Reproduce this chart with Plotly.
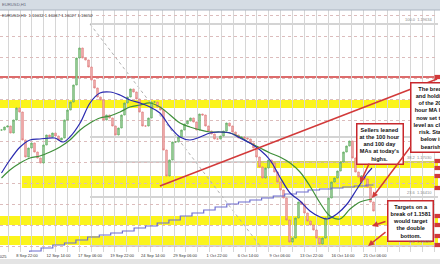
import plotly.graph_objects as go

# ---------------- data (EURUSD H1) ----------------
closes = [1.1762, 1.17677, 1.17696, 1.17563, 1.1781, 1.18038, 1.17962, 1.1743, 1.17107, 1.17278,
          1.17373, 1.17202, 1.17088, 1.16993, 1.17335, 1.17525, 1.17487, 1.17563, 1.17506, 1.1743,
          1.17468, 1.1781, 1.18, 1.18152, 1.18475, 1.18988, 1.19178, 1.18988, 1.1895, 1.18817,
          1.1857, 1.18418, 1.18247, 1.1819, 1.1781, 1.17905, 1.17848, 1.17696, 1.17525, 1.17658,
          1.17905, 1.18133, 1.18247, 1.18399, 1.18342, 1.18209, 1.17962, 1.17696, 1.17696, 1.17848,
          1.18152, 1.18152, 1.18057, 1.18, 1.1724, 1.16746, 1.1705, 1.17392, 1.17392, 1.17487,
          1.1762, 1.17734, 1.17791, 1.17848, 1.17772, 1.1762, 1.17924, 1.17905, 1.17696, 1.17601,
          1.17544, 1.17449, 1.17449, 1.17506, 1.17601, 1.17753, 1.17696, 1.17582, 1.17525, 1.17468,
          1.17487, 1.17468, 1.17449, 1.17373, 1.17278, 1.17107, 1.16917, 1.16708, 1.16898, 1.1705,
          1.16993, 1.16822, 1.16632, 1.1648, 1.16328, 1.1591, 1.15492, 1.15568, 1.15948, 1.16252,
          1.16214, 1.16043, 1.15891, 1.15815, 1.1572, 1.15568, 1.15454, 1.15568, 1.15948, 1.16328,
          1.16632, 1.16708, 1.16841, 1.17012, 1.17202, 1.17316, 1.17411, 1.17088, 1.16822, 1.16727,
          1.16746, 1.16689, 1.16537, 1.16252, 1.16081]

ma100h_bar = [0, 2.8, 6.2, 9.5, 12.8, 17.8, 20.5, 22.8, 26.2, 29.5, 32.8, 36.2, 39.5, 42.8, 46.2,
              49.5, 52.8, 56.2, 59.5, 62.8, 66.2, 69.5, 72.8, 76.2, 79.5, 82.8, 86.2, 89.5, 92.8,
              96.2, 99.5, 102.8, 106.2, 108.5, 111.8, 115.2, 118.5, 121.8, 123.5]
ma100h_val = [1.16803, 1.1705, 1.17297, 1.1743, 1.17449, 1.17468, 1.17392, 1.17487, 1.17753, 1.18133,
              1.18323, 1.18342, 1.18285, 1.1819, 1.18133, 1.18057, 1.17943, 1.17677, 1.17487, 1.1743,
              1.17487, 1.17563, 1.17582, 1.17563, 1.17468, 1.17373, 1.1724, 1.1705, 1.16727, 1.16423,
              1.16271, 1.16081, 1.15967, 1.15929, 1.16024, 1.16214, 1.16499, 1.16784, 1.16898]

ma200h_bar = [0, 2.8, 6.2, 9.5, 12.8, 16.2, 19.5, 22.8, 26.2, 29.5, 32.8, 36.2, 39.5, 42.8, 46.2,
              49.5, 52.8, 56.2, 59.5, 62.8, 66.2, 69.5, 72.8, 76.2, 79.5, 82.8, 86.2, 89.5, 92.8,
              96.2, 99.5, 102.8, 106.2, 109.5, 112.8, 116.2, 119.5, 123.5]
ma200h_val = [1.16708, 1.1686, 1.16993, 1.17088, 1.17126, 1.17202, 1.17297, 1.1743, 1.1762, 1.17753,
              1.17848, 1.17886, 1.17962, 1.18057, 1.18095, 1.18133, 1.18057, 1.17905, 1.17753, 1.17677,
              1.1762, 1.17582, 1.17582, 1.17563, 1.17487, 1.17373, 1.17278, 1.17183, 1.17107, 1.16993,
              1.16822, 1.16556, 1.16233, 1.15986, 1.15929, 1.16119, 1.16252, 1.16309]

ma100d_bar = [5.5, 9.4, 13.2, 17.1, 21, 24.8, 28.7, 32.6, 36.4, 40.3, 44.2, 48, 51.9, 55.8, 59.6,
              63.5, 67.4, 71.2, 75.1, 79, 82.8, 86.7, 90.6, 94.4, 98.3, 102.2, 106, 109.9, 113.8,
              117.6, 121.5, 124]
ma100d_val = [1.15264, 1.15321, 1.15378, 1.15435, 1.15473, 1.1553, 1.15587, 1.15625, 1.15663, 1.15701,
              1.15758, 1.15796, 1.15853, 1.1591, 1.15986, 1.16043, 1.161, 1.16157, 1.16214, 1.16252,
              1.1629, 1.16328, 1.16366, 1.16404, 1.16442, 1.1648, 1.16499, 1.16518, 1.16537, 1.16556,
              1.16575, 1.16575]

tick_bars = [8.5, 19, 29.5, 40.2, 50.5, 61.2, 71.8, 82.2, 92.8, 103.3, 113.8, 124.5]
tick_text = ["8 Sep 22:00", "12 Sep 14:00", "17 Sep 06:00", "19 Sep 22:00", "24 Sep 14:00",
             "29 Sep 06:00", "1 Oct 22:00", "6 Oct 14:00", "9 Oct 06:00", "13 Oct 22:00",
             "16 Oct 14:00", "21 Oct 06:00"]

# support / resistance zones (top, bottom, start bar)
zone_top = [1.1819, 1.17031, 1.16746, 1.15986, 1.15606]
zone_bot = [1.18038, 1.16898, 1.16518, 1.15815, 1.15435]
zone_start = [-0.5, 85.0, 6.8, -0.5, -0.5]
red_levels = [1.18627, 1.18171, 1.18057]
fib_levels = [1.19634, 1.17487, 1.17012, 1.16347, 1.15416]
fib_labels = {0: "100.0  1.19634", 2: "38.2  1.17030", 3: "23.6  1.16410", 4: "0.0  1.15420"}
trend_bar = [52.8, 145.2]
trend_val = [1.16556, 1.18589]
edge_marks = [1.18627, 1.18171, 1.18057, 1.17031, 1.16898, 1.16746, 1.16518, 1.15986, 1.15815,
              1.15606, 1.15435]

# ---------------- figure ----------------
bars = list(range(len(closes)))
opens = [closes[0]] + closes[:-1]
highs = [max(o, c) for o, c in zip(opens, closes)]
lows = [min(o, c) for o, c in zip(opens, closes)]

RED = "#d23a3a"
YEL = "#fbf41c"
fig = go.Figure()

fig.add_trace(go.Candlestick(
    x=bars, open=opens, high=highs, low=lows, close=closes,
    increasing=dict(line=dict(color="#5aa85a", width=0.8), fillcolor="#b4dcb4"),
    decreasing=dict(line=dict(color="#e07a7a", width=0.8), fillcolor="#f6c4c4"),
    whiskerwidth=0, hoverinfo="skip"))
fig.add_trace(go.Scatter(x=ma100d_bar, y=ma100d_val, mode="lines", line=dict(color="#6f6fd0", width=1.2, shape="hv"), hoverinfo="skip"))
fig.add_trace(go.Scatter(x=ma200h_bar, y=ma200h_val, mode="lines", line=dict(color="#3f8f3a", width=1.2, shape="spline"), hoverinfo="skip"))
fig.add_trace(go.Scatter(x=ma100h_bar, y=ma100h_val, mode="lines", line=dict(color="#2a2ab0", width=1.2, shape="spline"), hoverinfo="skip"))

shapes = []
for t, b, s in zip(zone_top, zone_bot, zone_start):
    shapes.append(dict(type="rect", xref="x", yref="y", x0=s, x1=145.5, y0=b, y1=t,
                       fillcolor=YEL, line=dict(width=0), layer="below"))
for lv in red_levels:
    shapes.append(dict(type="line", xref="paper", yref="y", x0=0, x1=1, y0=lv, y1=lv,
                       line=dict(color=RED, width=1.5), layer="below"))
for lv in fib_levels:
    shapes.append(dict(type="line", xref="x", yref="y", x0=29.5, x1=145.5, y0=lv, y1=lv,
                       line=dict(color="#a9a9a9", width=1), layer="below"))
shapes.append(dict(type="line", xref="x", yref="y", x0=29.5, x1=86.2, y0=fib_levels[0], y1=fib_levels[-1],
                   line=dict(color="#b0b0b0", width=1, dash="dot"), layer="below"))
shapes.append(dict(type="line", xref="x", yref="y", x0=trend_bar[0], x1=trend_bar[1], y0=trend_val[0], y1=trend_val[1],
                   line=dict(color=RED, width=1.5)))
for lv in edge_marks:
    shapes.append(dict(type="rect", xref="paper", yref="y", x0=0.992, x1=1.005, y0=lv - 0.0004, y1=lv + 0.0004,
                       fillcolor=RED, line=dict(width=0)))
# window chrome
shapes.append(dict(type="rect", xref="paper", yref="paper", x0=-0.01, x1=1.01, y0=(252 - 10) / 242, y1=(252 + 1) / 242,
                   fillcolor="#d5dce4", line=dict(color="#aab4c0", width=1)))
shapes.append(dict(type="rect", xref="paper", yref="paper", x0=-0.01, x1=1.01, y0=(252 - 265) / 242, y1=(252 - 259) / 242,
                   fillcolor="#e4e4e4", line=dict(width=0)))

ann = []
BOX = dict(showarrow=False, bgcolor="white", bordercolor="#c8282d", borderwidth=1.5, borderpad=2,
           font=dict(family="Liberation Sans, Arial", size=5.6, color="#111"), align="center")
ann.append(dict(x=126.2, y=1.17354, xref="x", yref="y",
                text="<b>Sellers leaned<br>at the 100 hour<br>and 100 day<br>MAs at today's<br>highs.</b>", **BOX))
ann.append(dict(x=136.3, y=1.15891, xref="x", yref="y",
                text="<b>Targets on a<br>break of 1.1581<br>would target<br>the double<br>bottom.</b>", **BOX))
ann.append(dict(x=136.2, y=1.17858, xref="x", yref="y", xanchor="left",
                text="<b>The break<br>and holding<br>of the 200<br>hour MA has<br>now set the<br>level as close<br>risk. Stay<br>below is<br>bearish.</b>", **BOX))
for (tx, ty, hx, hy) in [(122.8, 1.17012, 119.5, 1.16613), (136.8, 1.17335, 123.5, 1.16328),
                         (128.5, 1.15891, 123.5, 1.15796), (128.5, 1.15701, 122.2, 1.15416)]:
    ann.append(dict(x=hx, y=hy, ax=tx, ay=ty, xref="x", yref="y", axref="x", ayref="y", text="",
                    showarrow=True, arrowhead=2, arrowsize=0.8, arrowwidth=1.5, arrowcolor=RED))
for i, nm in fib_labels.items():
    ann.append(dict(x=0.99, y=fib_levels[i], xref="paper", yref="y", xanchor="right", yanchor="bottom", text=nm,
                    showarrow=False, font=dict(size=4, color="#888", family="Liberation Sans, Arial")))
ann.append(dict(x=0.0, y=(252 - 15) / 242, xref="paper", yref="paper", xanchor="left", yanchor="middle",
                text="EURUSD,H1  1.16032 1.16067 1.16027 1.16052", showarrow=False,
                font=dict(size=4.2, color="#333", family="Liberation Sans, Arial")))
ann.append(dict(x=0.0, y=(252 - 5) / 242, xref="paper", yref="paper", xanchor="left", yanchor="middle",
                text="EURUSD,H1", showarrow=False, font=dict(size=4.2, color="#667", family="Liberation Sans, Arial")))
ann.append(dict(x=9 / 438, y=(252 - 256) / 242, xref="paper", yref="paper", xanchor="right", yanchor="middle",
                text="4 Sep 2025", showarrow=False, font=dict(size=4, color="#333", family="Liberation Sans, Arial")))

fig.update_layout(
    width=440, height=264, margin=dict(l=0, r=2, t=10, b=12),
    paper_bgcolor="white", plot_bgcolor="white", showlegend=False,
    shapes=shapes, annotations=ann, hovermode=False,
    xaxis=dict(range=[-0.5, 145.5], tickvals=tick_bars, ticktext=tick_text, showgrid=False,
               tickfont=dict(size=4, color="#333", family="Liberation Sans, Arial"), ticks="", ticklen=0,
               rangeslider=dict(visible=False), zeroline=False, showline=False,
               minor=dict(showgrid=True, tick0=2.27, dtick=3.947, gridcolor="#d6d6d6", gridwidth=1)),
    yaxis=dict(range=[1.15302, 1.1990], showticklabels=False, showgrid=True, tick0=1.154, dtick=0.004,
               gridcolor="#dcbcbc", griddash="dot", zeroline=False, showline=False),
)
fig.write_html("out.html")
